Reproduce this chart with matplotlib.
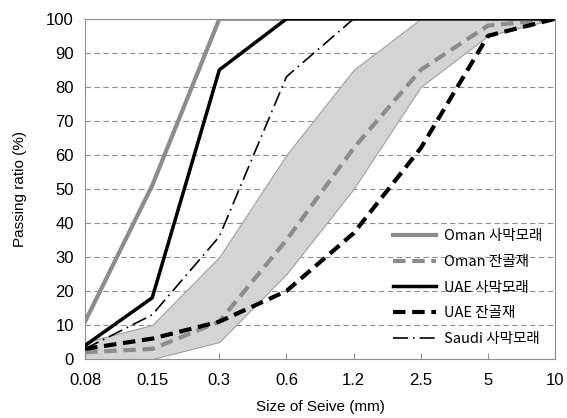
import matplotlib.pyplot as plt
import numpy as np

# sieve sizes (mm), drawn equally spaced
sieves = ["0.08", "0.15", "0.3", "0.6", "1.2", "2.5", "5", "10"]

oman_sand = [11, 51, 100, 100, 100, 100, 100, 100]
oman_fine = [2, 3, 11, 35, 62, 85, 98, 100]
uae_sand = [4, 18, 85, 100, 100, 100, 100, 100]
uae_fine = [3, 6, 11, 20, 37, 62, 95, 100]
saudi_sand = [3, 13, 36, 83, 100, 100, 100, 100]

# standard grading band
band_upper = [5, 10, 30, 60, 85, 100, 100, 100]
band_lower = [0, 0, 5, 25, 50, 80, 95, 100]

plt.rcParams["font.family"] = ["Liberation Sans", "Noto Sans CJK KR", "DejaVu Sans"]

fig = plt.figure(figsize=(5.67, 4.18), dpi=100)
ax = fig.add_axes([0.150, 0.141, 0.829, 0.814])

x = np.arange(len(sieves))

ax.fill_between(x, band_lower, band_upper, facecolor="#d4d4d4",
                edgecolor="#a0a0a0", linewidth=0.8, zorder=1)

ax.plot(x, oman_sand, color="#8c8c8c", lw=3, label="Oman 사막모래", zorder=3)
ax.plot(x, oman_fine, color="#8c8c8c", lw=3, ls=(0, (3, 1.6)), label="Oman 잔골재", zorder=3)
ax.plot(x, uae_sand, color="black", lw=2.5, label="UAE 사막모래", zorder=4)
ax.plot(x, uae_fine, color="black", lw=3, ls=(0, (3, 1.6)), label="UAE 잔골재", zorder=4)
ax.plot(x, saudi_sand, color="black", lw=1.2, ls=(0, (9, 3, 1, 3)), label="Saudi 사막모래", zorder=4)

ax.set_xlim(0, len(sieves) - 1)
ax.set_ylim(0, 100)
ax.set_xticks(x)
ax.set_xticklabels(sieves)
ax.set_yticks(range(0, 101, 10))
ax.yaxis.grid(True, ls=(0, (5, 3)), color="#909090", lw=0.8)
ax.set_axisbelow(True)

for s in ax.spines.values():
    s.set_color("#909090")
ax.tick_params(axis="both", labelsize=12, color="#909090", direction="in", length=4)
ax.tick_params(axis="x", pad=10)
ax.tick_params(axis="y", length=0, pad=8)

ax.set_xlabel("Size of Seive (mm)", fontsize=11, labelpad=9)
ax.set_ylabel("Passing ratio (%)", fontsize=11, labelpad=14)

leg = ax.legend(loc="lower right", frameon=False, fontsize=10.5,
                handlelength=3.0, handletextpad=0.5, labelspacing=0.8,
                bbox_to_anchor=(1.0, 0.0))
for t in leg.get_texts():
    t.set_family(["Noto Sans CJK KR", "DejaVu Sans"])

fig.savefig("out.png", dpi=100)
